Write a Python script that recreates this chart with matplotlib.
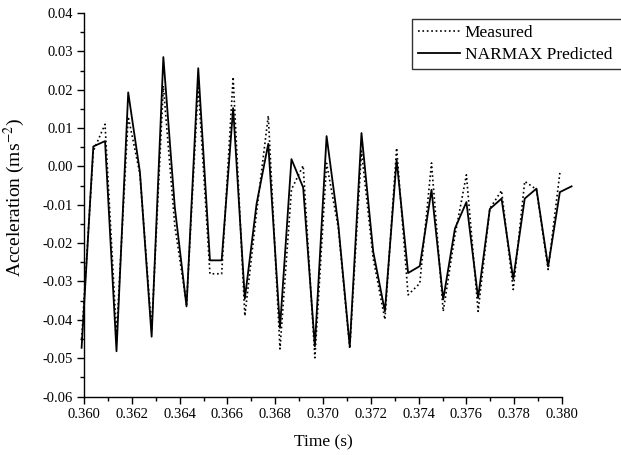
import matplotlib
matplotlib.use("Agg")
import matplotlib.pyplot as plt
from matplotlib.ticker import MultipleLocator, FormatStrFormatter

plt.rcParams["font.family"] = ["Liberation Serif", "DejaVu Serif"]
plt.rcParams["axes.unicode_minus"] = False
plt.rcParams["mathtext.fontset"] = "stix"

# sample times (s)
time = [0.35990, 0.36039, 0.36088, 0.36136, 0.36185, 0.36234, 0.36283, 0.36332,
        0.36380, 0.36429, 0.36478, 0.36527, 0.36576, 0.36624, 0.36673, 0.36722,
        0.36771, 0.36820, 0.36868, 0.36917, 0.36966, 0.37015, 0.37064, 0.37112,
        0.37161, 0.37210, 0.37259, 0.37308, 0.37356, 0.37405, 0.37454, 0.37503,
        0.37552, 0.37600, 0.37649, 0.37698, 0.37747, 0.37796, 0.37844, 0.37893,
        0.37942, 0.37991, 0.38040]

measured = [-0.0450, 0.0040, 0.0110, -0.0440, 0.0130, -0.0020, -0.0425, 0.0210,
            -0.0155, -0.0360, 0.0210, -0.0280, -0.0280, 0.0233, -0.0390, -0.0120,
            0.0132, -0.0476, -0.0060, 0.0002, -0.0499, 0.0008, -0.0160, -0.0475,
            0.0040, -0.0240, -0.0399, 0.0048, -0.0335, -0.0305, 0.0009, -0.0378,
            -0.0180, -0.0022, -0.0378, -0.0110, -0.0063, -0.0321, -0.0039, -0.0060,
            -0.0269, -0.0017]

predicted = [-0.0473, 0.0052, 0.0066, -0.0482, 0.0193, -0.0015, -0.0444, 0.0285,
             -0.0107, -0.0365, 0.0256, -0.0245, -0.0245, 0.0152, -0.0345, -0.0098,
             0.0059, -0.0421, 0.0019, -0.0055, -0.0469, 0.0079, -0.0152, -0.0470,
             0.0087, -0.0222, -0.0378, 0.0017, -0.0278, -0.0260, -0.0061, -0.0347,
             -0.0162, -0.0093, -0.0343, -0.0111, -0.0084, -0.0294, -0.0084, -0.0058,
             -0.0261, -0.0067, -0.0052]

fig = plt.figure(figsize=(6.21, 4.55), dpi=100)
ax = fig.add_axes([84 / 621, 1 - 396.5 / 455, 478 / 621, 383.5 / 455])

l1, = ax.plot(time[:len(measured)], measured, color="black", linestyle=":", lw=1.2,
              clip_on=False, label="Measured")
l2, = ax.plot(time, predicted, color="black", linestyle="-", lw=1.3,
              clip_on=False, label="NARMAX Predicted")

ax.set_xlim(0.360, 0.380)
ax.set_ylim(-0.06, 0.04)
ax.xaxis.set_major_locator(MultipleLocator(0.002))
ax.xaxis.set_minor_locator(MultipleLocator(0.001))
ax.yaxis.set_major_locator(MultipleLocator(0.01))
ax.yaxis.set_minor_locator(MultipleLocator(0.005))
ax.xaxis.set_major_formatter(FormatStrFormatter("%.3f"))
ax.yaxis.set_major_formatter(FormatStrFormatter("%.2f"))

for s in ["top", "right"]:
    ax.spines[s].set_visible(False)
for s in ["left", "bottom"]:
    ax.spines[s].set_linewidth(1.0)

ax.tick_params(which="major", direction="out", length=5, width=1.0,
               labelsize=10.5, pad=3)
ax.tick_params(which="minor", direction="out", length=3, width=1.0)

ax.set_xlabel("Time (s)", fontsize=12.5)
ax.set_ylabel("Acceleration (ms$^{-2}$)", fontsize=14)
ax.xaxis.set_label_coords(0.5, -0.10)
ax.yaxis.set_label_coords(-0.12, 0.52)

leg = fig.legend(handles=[l1, l2], loc="upper left",
                 bbox_to_anchor=(412 / 621, 1 - 71 / 455, 215 / 621, 52 / 455),
                 mode="expand", fontsize=12.5, frameon=True, fancybox=False,
                 handlelength=2.4, handletextpad=0.3, borderaxespad=0,
                 borderpad=0.35, labelspacing=0.3)
leg.get_frame().set_edgecolor("black")
leg.get_frame().set_linewidth(1.0)

fig.savefig("out.png", dpi=100)
